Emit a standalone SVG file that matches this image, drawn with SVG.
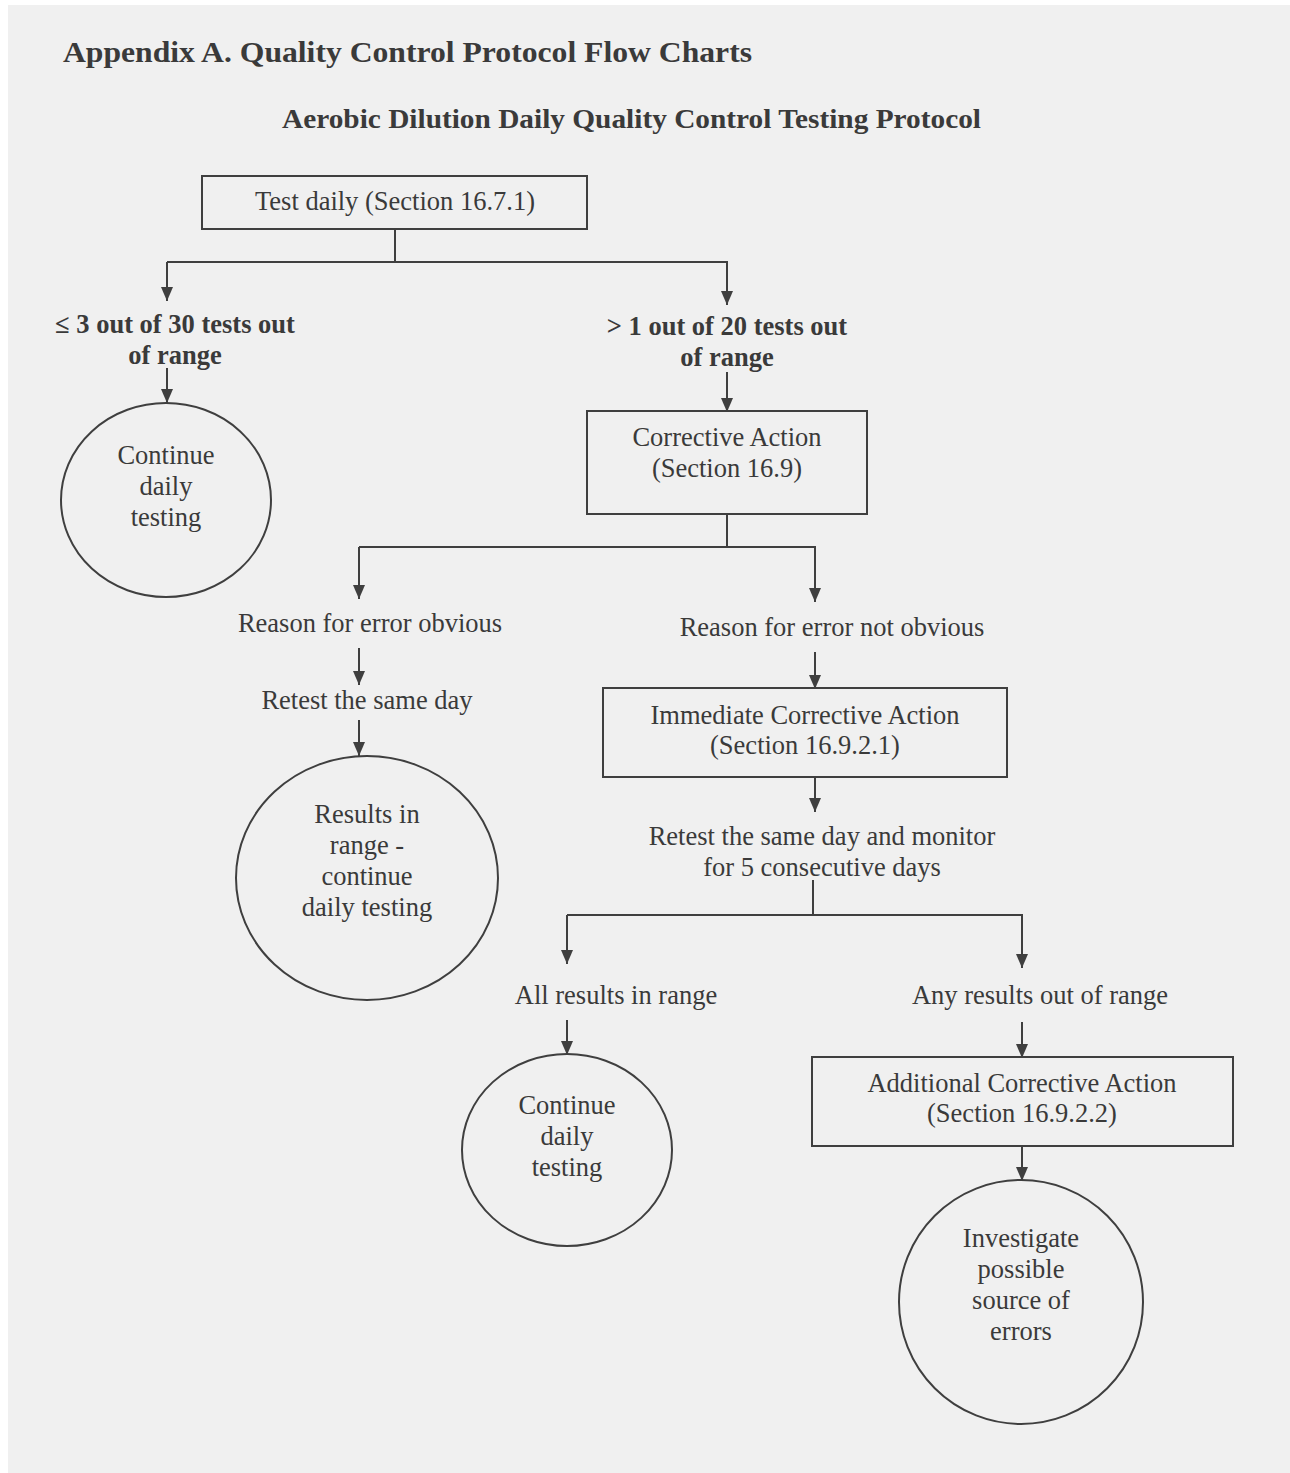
<svg xmlns="http://www.w3.org/2000/svg" width="1290" height="1473" viewBox="0 0 1290 1473">
<style>
.t{font-family:"Liberation Serif","Times New Roman",serif;font-size:26.5px;fill:#3a3a3a;text-anchor:middle}
.b{font-weight:bold}
.h{font-family:"Liberation Serif","Times New Roman",serif;font-weight:bold;fill:#3a3a3a}
.shape{fill:none;stroke:#3f3f3f;stroke-width:2}
.c{fill:none;stroke:#3f3f3f;stroke-width:2}
.a{marker-end:url(#arr)}
</style>
<defs>
<marker id="arr" viewBox="0 0 14 12" refX="14" refY="6" markerWidth="14" markerHeight="12" markerUnits="userSpaceOnUse" orient="auto">
<path d="M0,0 L14,6 L0,12 Z" fill="#3f3f3f"/>
</marker>
</defs>
<rect x="0" y="0" width="1290" height="1473" fill="#ffffff"/>
<rect x="8" y="5" width="1282" height="1468" fill="#f0f0f0"/>
<text class="h" x="63" y="62" font-size="29" textLength="689" lengthAdjust="spacingAndGlyphs">Appendix A. Quality Control Protocol Flow Charts</text>
<text class="h" x="282" y="128" font-size="27" textLength="699" lengthAdjust="spacingAndGlyphs">Aerobic Dilution Daily Quality Control Testing Protocol</text>

<g id="connectors">
<path class="c" d="M395,229 V263 M167,262 H727 V265"/>
<path class="c a" d="M167,262 V301"/>
<path class="c a" d="M727,265 V305"/>
<path class="c a" d="M167,368 V403"/>
<path class="c a" d="M727,372 V412"/>
<path class="c" d="M727,514 V547 M359,547 H815 V549"/>
<path class="c a" d="M359,547 V599"/>
<path class="c a" d="M815,549 V602"/>
<path class="c a" d="M359,648 V685"/>
<path class="c a" d="M359,720 V756"/>
<path class="c a" d="M815,652 V689"/>
<path class="c a" d="M815,777 V812"/>
<path class="c" d="M813,880 V915 M567,915 H1022 V918"/>
<path class="c a" d="M567,915 V964"/>
<path class="c a" d="M1022,918 V968"/>
<path class="c a" d="M567,1020 V1055"/>
<path class="c a" d="M1022,1022 V1058"/>
<path class="c a" d="M1022,1146 V1181"/>
</g>

<g id="n_test_daily">
<rect class="shape" x="202" y="176" width="385" height="53"/>
<text class="t" x="395" y="210">Test daily (Section 16.7.1)</text>
</g>
<g id="n_le3">
<text class="t b" x="175" y="333">≤ 3 out of 30 tests out</text>
<text class="t b" x="175" y="364">of range</text>
</g>
<g id="n_continue1">
<ellipse class="shape" cx="166" cy="500" rx="105" ry="97"/>
<text class="t" x="166" y="464">Continue</text>
<text class="t" x="166" y="495">daily</text>
<text class="t" x="166" y="526">testing</text>
</g>
<g id="n_gt1">
<text class="t b" x="727" y="335">&gt; 1 out of 20 tests out</text>
<text class="t b" x="727" y="366">of range</text>
</g>
<g id="n_corrective">
<rect class="shape" x="587" y="411" width="280" height="103"/>
<text class="t" x="727" y="446">Corrective Action</text>
<text class="t" x="727" y="477">(Section 16.9)</text>
</g>
<g id="n_obvious">
<text class="t" x="370" y="632">Reason for error obvious</text>
</g>
<g id="n_retest1">
<text class="t" x="367" y="709">Retest the same day</text>
</g>
<g id="n_results_in_range">
<ellipse class="shape" cx="367" cy="878" rx="131" ry="122"/>
<text class="t" x="367" y="823">Results in</text>
<text class="t" x="367" y="854">range -</text>
<text class="t" x="367" y="885">continue</text>
<text class="t" x="367" y="916">daily testing</text>
</g>
<g id="n_not_obvious">
<text class="t" x="832" y="636">Reason for error not obvious</text>
</g>
<g id="n_immediate">
<rect class="shape" x="603" y="688" width="404" height="89"/>
<text class="t" x="805" y="724">Immediate Corrective Action</text>
<text class="t" x="805" y="754">(Section 16.9.2.1)</text>
</g>
<g id="n_retest_monitor">
<text class="t" x="822" y="845">Retest the same day and monitor</text>
<text class="t" x="822" y="876">for 5 consecutive days</text>
</g>
<g id="n_all_in_range">
<text class="t" x="616" y="1004">All results in range</text>
</g>
<g id="n_continue2">
<ellipse class="shape" cx="567" cy="1150" rx="105" ry="96"/>
<text class="t" x="567" y="1114">Continue</text>
<text class="t" x="567" y="1145">daily</text>
<text class="t" x="567" y="1176">testing</text>
</g>
<g id="n_any_out">
<text class="t" x="1040" y="1004">Any results out of range</text>
</g>
<g id="n_additional">
<rect class="shape" x="812" y="1057" width="421" height="89"/>
<text class="t" x="1022" y="1092">Additional Corrective Action</text>
<text class="t" x="1022" y="1122">(Section 16.9.2.2)</text>
</g>
<g id="n_investigate">
<ellipse class="shape" cx="1021" cy="1302" rx="122" ry="122"/>
<text class="t" x="1021" y="1247">Investigate</text>
<text class="t" x="1021" y="1278">possible</text>
<text class="t" x="1021" y="1309">source of</text>
<text class="t" x="1021" y="1340">errors</text>
</g>
</svg>
